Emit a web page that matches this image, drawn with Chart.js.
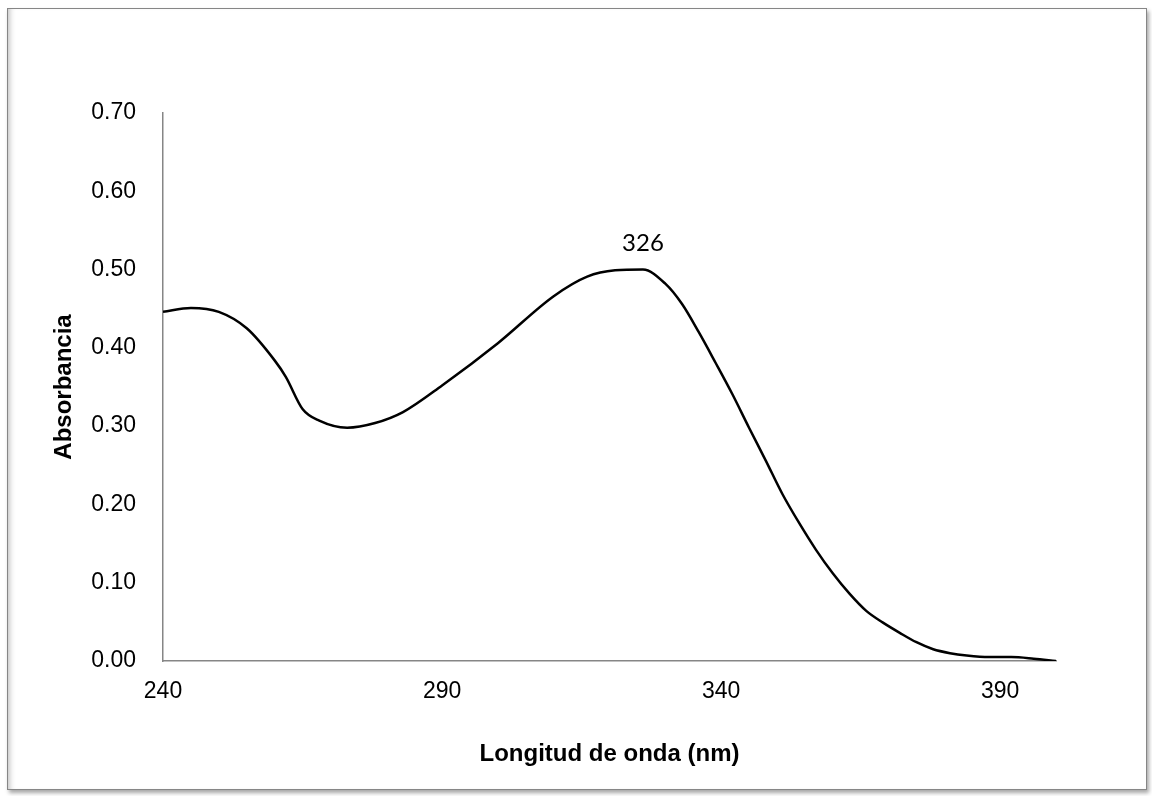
<!DOCTYPE html>
<html>
<head>
<meta charset="utf-8">
<title>Espectro de absorción</title>
<script src="https://cdn.jsdelivr.net/npm/chart.js@4/dist/chart.umd.min.js"></script>
<style>
  body { margin: 0; background: #fff; }
  #frame {
    position: absolute; left: 7px; top: 8px; width: 1138px; height: 780px;
    border: 1px solid #868686;
    box-shadow: 2px 3px 4px rgba(0,0,0,0.35), inset 6px 0 6px -5px rgba(0,0,0,0.3);
  }
  #spectrum { position: absolute; left: 0; top: 0; }
</style>
</head>
<body>
<div id="frame"></div>
<canvas id="spectrum" width="1152" height="796"></canvas>
<script>
var wavelengthNm = [240, 245, 250, 255, 260, 262, 265, 268, 273, 278, 283, 290, 300, 310, 316, 321, 326, 330,
  333, 336, 339, 342, 345, 348, 351, 354, 357, 360, 363, 366, 369, 372, 375, 378, 381, 384, 388, 392, 396, 400];
var absorbance = [0.446, 0.451, 0.446, 0.425, 0.384, 0.363, 0.322, 0.307, 0.298, 0.304, 0.318, 0.352, 0.406, 0.466, 0.491, 0.499, 0.500, 0.482,
  0.456, 0.420, 0.381, 0.341, 0.298, 0.256, 0.213, 0.176, 0.142, 0.112, 0.086, 0.064, 0.049, 0.036, 0.024, 0.015, 0.010, 0.007, 0.005, 0.005, 0.003, 0.000];

// máximo de absorción que se rotula
var peakWavelength = 326;

var xTicks = [240, 290, 340, 390];
var yTicks = [0, 0.1, 0.2, 0.3, 0.4, 0.5, 0.6, 0.7];

Chart.defaults.font.family = "'Liberation Sans', Arial, sans-serif";
Chart.defaults.color = "#000";

var points = wavelengthNm.map(function(x, i) { return { x: x, y: absorbance[i] }; });
var peakIndex = wavelengthNm.indexOf(peakWavelength);

// etiqueta sobre el pico
var peakLabel = {
  id: "peakLabel",
  afterDatasetsDraw: function(chart) {
    var pt = chart.getDatasetMeta(0).data[peakIndex];
    var ctx = chart.ctx;
    ctx.save();
    ctx.font = "24px Lato, 'Open Sans', sans-serif";
    ctx.fillStyle = "#000";
    ctx.textAlign = "center";
    ctx.textBaseline = "bottom";
    ctx.fillText(String(wavelengthNm[peakIndex]), pt.x, pt.y - 14);
    ctx.restore();
  }
};

var ctx = document.getElementById("spectrum").getContext("2d");
new Chart(ctx, {
  type: "scatter",
  data: {
    datasets: [{
      data: points,
      showLine: true,
      borderColor: "#000",
      borderWidth: 2.5,
      pointRadius: 0,
      cubicInterpolationMode: "monotone"
    }]
  },
  options: {
    responsive: false,
    animation: false,
    layout: { padding: { left: 0, top: 113, right: 96, bottom: 0 } },
    plugins: { legend: { display: false }, tooltip: { enabled: false } },
    scales: {
      x: {
        type: "linear",
        min: 240,
        max: 400,
        grid: { display: false },
        border: { color: "#868686", width: 1.5 },
        ticks: { font: { size: 23 }, padding: 9 },
        afterBuildTicks: function(s) { s.ticks = xTicks.map(function(v) { return { value: v }; }); },
        afterFit: function(s) { s.height = 135; },
        title: {
          display: true,
          text: "Longitud de onda (nm)",
          font: { size: 24, weight: "bold" },
          padding: { top: 0, bottom: 27 }
        }
      },
      y: {
        type: "linear",
        min: 0,
        max: 0.7,
        grid: { display: false },
        border: { color: "#868686", width: 1.5 },
        ticks: {
          font: { size: 23 },
          padding: 19,
          callback: function(v) { return v.toFixed(2); }
        },
        afterBuildTicks: function(s) { s.ticks = yTicks.map(function(v) { return { value: v }; }); },
        afterFit: function(s) { s.width = 163; },
        title: {
          display: true,
          text: "Absorbancia",
          font: { size: 24, weight: "bold" },
          padding: { top: 50, bottom: 0 }
        }
      }
    }
  },
  plugins: [peakLabel]
});
</script>
</body>
</html>
